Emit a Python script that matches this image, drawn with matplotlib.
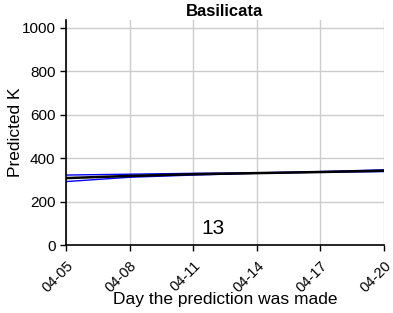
import matplotlib
matplotlib.use("Agg")
import matplotlib.pyplot as plt
import matplotlib.transforms as mtransforms
import numpy as np

plt.rcParams['font.family'] = ['Liberation Sans', 'DejaVu Sans']

days = [0, 3, 6, 9, 12, 15]
tick_labels = ["04-05", "04-08", "04-11", "04-14", "04-17", "04-20"]
upper = [322, 326, 330, 332, 338, 346]
median = [308, 318, 326, 331, 336, 342]
lower = [292, 312, 322, 330, 335, 338]

fig = plt.figure(figsize=(3.93, 3.13), dpi=100)
ax = fig.add_axes([0.168, 0.217, 0.809, 0.719])

ax.plot(days, upper, color='blue', lw=1.0)
ax.plot(days, lower, color='blue', lw=1.0)
ax.plot(days, median, color='black', lw=1.8)

ax.set_xlim(0, 15)
ax.set_ylim(0, 1035)
ax.set_xticks(days)
ax.set_yticks([0, 200, 400, 600, 800, 1000])
ax.grid(True, color='#cccccc', lw=1)
ax.set_axisbelow(True)
for s in ['top', 'right']:
    ax.spines[s].set_visible(False)
for s in ['left', 'bottom']:
    ax.spines[s].set_linewidth(1.2)
ax.tick_params(axis='y', labelsize=11)
ax.tick_params(length=4, width=1)
ax.set_xticklabels(tick_labels, rotation=45, ha='right', va='top',
                   rotation_mode='anchor', fontsize=10.5)
offset = mtransforms.ScaledTranslation(0 / 100, -3 / 100, fig.dpi_scale_trans)
for lab in ax.get_xticklabels():
    lab.set_transform(lab.get_transform() + offset)
ax.set_xlabel("Day the prediction was made", fontsize=12.5, va='center')
ax.set_ylabel("Predicted K", fontsize=12.5, va='center')
ax.xaxis.set_label_coords(0.5, -0.244)
ax.yaxis.set_label_coords(-0.16, 0.5)
ax.set_title("Basilicata", fontsize=12, fontweight='bold', pad=3)
ax.text(6.93, 74, "13", fontsize=15, ha='center', va='center')

fig.savefig("out.png", dpi=100)
